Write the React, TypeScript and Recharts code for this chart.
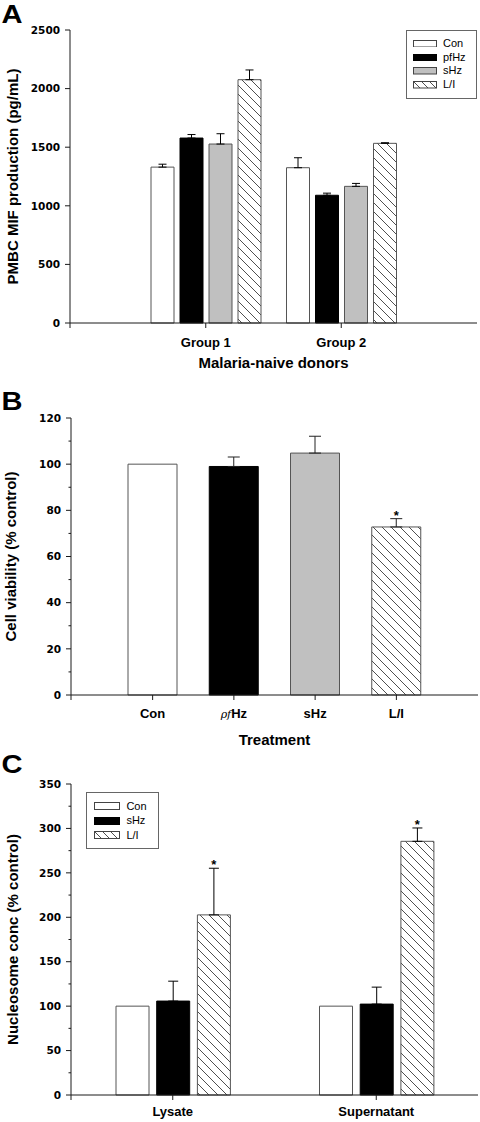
import React from "react";
import { BarChart, Bar, XAxis, YAxis, ErrorBar, Cell, Legend, LabelList, Label } from "recharts";

const FONT = '"Liberation Sans", Arial, Helvetica, sans-serif';
const NUM_FONT = '"DejaVu Sans", "Liberation Sans", sans-serif';
const AXIS = "#1a1a1a";
const BAR_STROKE = "#555";
const GREY = "#c0c0c0";

// ---------- Panel A ----------
const groupsA = ["Group 1", "Group 2"];
const seriesA = ["Con", "pfHz", "sHz", "L/I"];
const conA = [1330, 1325];
const conErrA = [25, 85];
const pfhzA = [1578, 1090];
const pfhzErrA = [30, 18];
const shzA = [1527, 1166];
const shzErrA = [88, 25];
const liA = [2076, 1533];
const liErrA = [83, 5];
const ticksA = [0, 500, 1000, 1500, 2000, 2500];

// ---------- Panel B ----------
const treatmentsB = ["Con", "ρfHz", "sHz", "L/I"];
const viabilityB = [100, 99, 104.8, 72.8];
const viabilityErrB = [0, 4.1, 7.3, 3.6];
const starsB = ["", "", "", "*"];
const majorTicksB = [0, 20, 40, 60, 80, 100, 120];
const allTicksB = [0, 10, 20, 30, 40, 50, 60, 70, 80, 90, 100, 110, 120];

// ---------- Panel C ----------
const sourcesC = ["Lysate", "Supernatant"];
const seriesC = ["Con", "sHz", "L/I"];
const conC = [100, 100];
const shzC = [105.7, 102.3];
const shzErrC = [22.4, 19.1];
const liC = [202.7, 285.5];
const liErrC = [52.5, 15];
const starsC = ["*", "*"];
const majorTicksC = [0, 50, 100, 150, 200, 250, 300, 350];
const allTicksC = [0, 25, 50, 75, 100, 125, 150, 175, 200, 225, 250, 275, 300, 325, 350];

const err = (e: number) => (e > 0 ? [0, e] : undefined);

const dataA = groupsA.map((g, i) => ({
  g,
  con: conA[i], conErr: err(conErrA[i]),
  pfhz: pfhzA[i], pfhzErr: err(pfhzErrA[i]),
  shz: shzA[i], shzErr: err(shzErrA[i]),
  li: liA[i], liErr: err(liErrA[i]),
}));

const dataB = treatmentsB.map((t, i) => ({
  t, v: viabilityB[i], vErr: err(viabilityErrB[i]), star: starsB[i],
}));

const dataC = sourcesC.map((s, i) => ({
  s,
  con: conC[i],
  shz: shzC[i], shzErr: err(shzErrC[i]),
  li: liC[i], liErr: err(liErrC[i]), star: starsC[i],
}));

const fillsB = ["#fff", "#000", GREY, "url(#hatchB)"];

function hatch(id: string, s = 9) {
  return (
    <pattern id={id} patternUnits="userSpaceOnUse" width={s} height={s}>
      <rect width={s} height={s} fill="#fff" />
      <path
        d={`M0,0 L${s},${s} M-1,${s - 1} L1,${s + 1} M${s - 1},-1 L${s + 1},1`}
        stroke="#222"
        strokeWidth={0.8}
      />
    </pattern>
  );
}

function YTick(props: any) {
  const { x, y, payload, major } = props;
  const v = payload.value;
  const isMajor = major.includes(v);
  return (
    <g>
      <line x1={x - (isMajor ? 5 : 2.5)} y1={y} x2={x} y2={y} stroke={AXIS} />
      {v === 0 && <line x1={x} y1={y} x2={x} y2={y + 5} stroke={AXIS} />}
      {isMajor && (
        <text
          x={x - 10}
          y={y}
          dy="0.36em"
          textAnchor="end"
          fontFamily={NUM_FONT}
          fontWeight="bold"
          fontSize={10.5}
          fill="#000"
        >
          {v}
        </text>
      )}
    </g>
  );
}

function RightTick(props: any) {
  const { x, y, payload } = props;
  if (payload.value !== 0) return null;
  return <line x1={x} y1={y} x2={x} y2={y + 5} stroke={AXIS} />;
}

function TreatTick(props: any) {
  const { x, y, payload } = props;
  const v = String(payload.value);
  const m = v.match(/^(ρf)(.*)$/);
  return (
    <text x={x} y={y} dy="0.71em" textAnchor="middle" fontFamily={FONT} fontWeight="bold" fontSize={13} fill="#000">
      {m ? (
        <>
          <tspan fontStyle="italic" fontWeight="normal" fontFamily='"DejaVu Serif", serif' fontSize={11}>
            {m[1]}
          </tspan>
          <tspan>{m[2]}</tspan>
        </>
      ) : (
        v
      )}
    </text>
  );
}

const makeStar = (values: number[], errs: number[]) => (props: any) => {
  const { x, y, width, height, value, index } = props;
  if (!value) return null;
  const pxPerUnit = height / values[index];
  const top = y - errs[index] * pxPerUnit;
  return (
    <text x={x + width / 2} y={top + 1} textAnchor="middle" fontFamily={FONT} fontWeight="bold" fontSize={13} fill="#000">
      {value}
    </text>
  );
};

function Swatch({ kind, w, h, id }: { kind: string; w: number; h: number; id: string }) {
  const fill = kind === "white" ? "#fff" : kind === "black" ? "#000" : kind === "grey" ? GREY : `url(#${id})`;
  return (
    <svg width={w} height={h} style={{ display: "block" }}>
      <defs>{hatch(id, 8)}</defs>
      <rect x={0.5} y={0.5} width={w - 1} height={h - 1} fill={fill} stroke={kind === "black" ? "#000" : "#444"} />
    </svg>
  );
}

function BoxLegend({ names, kinds, rowH, padTop, swW, swH, swLeft, gap, prefix }: any) {
  return (
    <div
      style={{
        boxSizing: "border-box",
        width: "100%",
        height: "100%",
        border: "1px solid #666",
        background: "#fff",
        paddingTop: padTop,
      }}
    >
      {names.map((n: string, i: number) => (
        <div key={n} style={{ display: "flex", alignItems: "center", height: rowH }}>
          <div style={{ marginLeft: swLeft }}>
            <Swatch kind={kinds[i]} w={swW} h={swH} id={`${prefix}${i}`} />
          </div>
          <span style={{ marginLeft: gap, fontFamily: FONT, fontSize: 11, color: "#000", lineHeight: `${rowH}px` }}>{n}</span>
        </div>
      ))}
    </div>
  );
}

const tickStyle = { fontFamily: FONT, fontWeight: "bold", fontSize: 13, fill: "#000" } as any;
const titleStyle = { fontFamily: FONT, fontWeight: "bold", fontSize: 15, fill: "#000" } as any;

function PanelA() {
  return (
    <BarChart width={480} height={380} data={dataA} margin={{ top: 30, right: 3, bottom: 0, left: 0 }} barSize={23} barGap={6}>
      <defs>{hatch("hatchA")}</defs>
      <XAxis
        dataKey="g"
        height={57}
        padding={{ left: 68, right: 68 }}
        stroke={AXIS}
        tickSize={5}
        tickMargin={9.5}
        tick={tickStyle}
      >
        <Label value="Malaria-naive donors" position="insideBottom" offset={12} style={titleStyle} />
      </XAxis>
      <XAxis xAxisId="top" orientation="top" dataKey="g" height={0} tick={false} tickLine={false} stroke={AXIS} />
      <YAxis
        width={70}
        domain={[0, 2500]}
        ticks={ticksA}
        interval={0}
        stroke={AXIS}
        tickLine={false}
        tickSize={0}
        tickMargin={0}
        tick={(p: any) => <YTick {...p} major={ticksA} />}
      >
        <Label
          value="PMBC MIF production (pg/mL)"
          angle={-90}
          position="insideLeft"
          offset={12.5}
          style={{ ...titleStyle, textAnchor: "middle" }}
        />
      </YAxis>
      <YAxis
        yAxisId="r"
        orientation="right"
        width={0}
        domain={[0, 2500]}
        ticks={[0]}
        stroke={AXIS}
        tickLine={false}
        tickSize={0}
        tickMargin={0}
        tick={(p: any) => <RightTick {...p} />}
      />
      <Bar dataKey="con" name={seriesA[0]} fill="#fff" stroke={BAR_STROKE} isAnimationActive={false}>
        <ErrorBar dataKey="conErr" width={4} stroke="#000" strokeWidth={1} direction="y" />
      </Bar>
      <Bar dataKey="pfhz" name={seriesA[1]} fill="#000" stroke="#000" isAnimationActive={false}>
        <ErrorBar dataKey="pfhzErr" width={4} stroke="#000" strokeWidth={1} direction="y" />
      </Bar>
      <Bar dataKey="shz" name={seriesA[2]} fill={GREY} stroke={BAR_STROKE} isAnimationActive={false}>
        <ErrorBar dataKey="shzErr" width={4} stroke="#000" strokeWidth={1} direction="y" />
      </Bar>
      <Bar dataKey="li" name={seriesA[3]} fill="url(#hatchA)" stroke={BAR_STROKE} isAnimationActive={false}>
        <ErrorBar dataKey="liErr" width={4} stroke="#000" strokeWidth={1} direction="y" />
      </Bar>
      <Legend
        layout="vertical"
        align="center"
        verticalAlign="middle"
        wrapperStyle={{ left: 406, top: 30, width: 71, height: 68.5, margin: 0, right: "auto", bottom: "auto" }}
        content={() => (
          <BoxLegend
            names={seriesA}
            kinds={["white", "black", "grey", "hatch"]}
            rowH={13.7}
            padTop={5.85}
            swW={24}
            swH={7.5}
            swLeft={6}
            gap={6}
            prefix="lgA"
          />
        )}
      />
    </BarChart>
  );
}

function PanelB() {
  return (
    <BarChart width={480} height={390} data={dataB} margin={{ top: 48, right: 2, bottom: 0, left: 0 }} barSize={49}>
      <defs>{hatch("hatchB")}</defs>
      <XAxis
        dataKey="t"
        height={65}
        padding={{ left: 41, right: 41 }}
        stroke={AXIS}
        tickSize={5}
        tickMargin={9}
        tick={(p: any) => <TreatTick {...p} />}
      >
        <Label value="Treatment" position="insideBottom" offset={15} style={titleStyle} />
      </XAxis>
      <XAxis xAxisId="top" orientation="top" dataKey="t" height={0} tick={false} tickLine={false} stroke={AXIS} />
      <YAxis
        width={71}
        domain={[0, 120]}
        ticks={allTicksB}
        interval={0}
        stroke={AXIS}
        tickLine={false}
        tickSize={0}
        tickMargin={0}
        tick={(p: any) => <YTick {...p} major={majorTicksB} />}
      >
        <Label
          value="Cell viability (% control)"
          angle={-90}
          position="insideLeft"
          offset={11}
          style={{ ...titleStyle, textAnchor: "middle" }}
        />
      </YAxis>
      <YAxis
        yAxisId="r"
        orientation="right"
        width={0}
        domain={[0, 120]}
        ticks={[0]}
        stroke={AXIS}
        tickLine={false}
        tickSize={0}
        tickMargin={0}
        tick={(p: any) => <RightTick {...p} />}
      />
      <Bar dataKey="v" stroke={BAR_STROKE} isAnimationActive={false}>
        {dataB.map((d, i) => (
          <Cell key={d.t} fill={fillsB[i]} stroke={i === 1 ? "#000" : BAR_STROKE} />
        ))}
        <ErrorBar dataKey="vErr" width={6} stroke="#222" strokeWidth={1} direction="y" />
        <LabelList dataKey="star" content={makeStar(viabilityB, viabilityErrB)} />
      </Bar>
    </BarChart>
  );
}

function PanelC() {
  return (
    <BarChart width={480} height={362} data={dataC} margin={{ top: 24, right: 2, bottom: 0, left: 0 }} barSize={33} barGap={7.7}>
      <defs>{hatch("hatchC")}</defs>
      <XAxis dataKey="s" height={27} stroke={AXIS} tickSize={5} tickMargin={7} tick={tickStyle} />
      <XAxis xAxisId="top" orientation="top" dataKey="s" height={0} tick={false} tickLine={false} stroke={AXIS} />
      <YAxis
        width={71}
        domain={[0, 350]}
        ticks={allTicksC}
        interval={0}
        stroke={AXIS}
        tickLine={false}
        tickSize={0}
        tickMargin={0}
        tick={(p: any) => <YTick {...p} major={majorTicksC} />}
      >
        <Label
          value="Nucleosome conc (% control)"
          angle={-90}
          position="insideLeft"
          offset={12.5}
          style={{ ...titleStyle, textAnchor: "middle" }}
        />
      </YAxis>
      <YAxis
        yAxisId="r"
        orientation="right"
        width={0}
        domain={[0, 350]}
        ticks={[0]}
        stroke={AXIS}
        tickLine={false}
        tickSize={0}
        tickMargin={0}
        tick={(p: any) => <RightTick {...p} />}
      />
      <Bar dataKey="con" name={seriesC[0]} fill="#fff" stroke={BAR_STROKE} isAnimationActive={false} />
      <Bar dataKey="shz" name={seriesC[1]} fill="#000" stroke="#000" isAnimationActive={false}>
        <ErrorBar dataKey="shzErr" width={5} stroke="#000" strokeWidth={1} direction="y" />
      </Bar>
      <Bar dataKey="li" name={seriesC[2]} fill="url(#hatchC)" stroke={BAR_STROKE} isAnimationActive={false}>
        <ErrorBar dataKey="liErr" width={5} stroke="#000" strokeWidth={1} direction="y" />
        <LabelList dataKey="star" content={makeStar(liC, liErrC)} />
      </Bar>
      <Legend
        layout="vertical"
        align="center"
        verticalAlign="middle"
        wrapperStyle={{ left: 86, top: 32, width: 72.5, height: 57, margin: 0, right: "auto", bottom: "auto" }}
        content={() => (
          <BoxLegend
            names={seriesC}
            kinds={["white", "black", "hatch"]}
            rowH={14.5}
            padTop={5.75}
            swW={26}
            swH={8}
            swLeft={7.4}
            gap={6}
            prefix="lgC"
          />
        )}
      />
    </BarChart>
  );
}

function PanelLetter({ letter, x, y }: { letter: string; x: number; y: number }) {
  return (
    <text x={x} y={y} fontFamily={FONT} fontWeight="bold" fontSize={26} fill="#000" textLength={21} lengthAdjust="spacingAndGlyphs">
      {letter}
    </text>
  );
}

export default function App() {
  return (
    <div style={{ position: "absolute", left: 0, top: 0, width: 480, height: 1122, background: "#fff", overflow: "hidden" }}>
      <div style={{ position: "absolute", left: 0, top: 0 }}>
        <PanelA />
      </div>
      <div style={{ position: "absolute", left: 0, top: 370 }}>
        <PanelB />
      </div>
      <div style={{ position: "absolute", left: 0, top: 760 }}>
        <PanelC />
      </div>
      <svg width={480} height={1122} style={{ position: "absolute", left: 0, top: 0, pointerEvents: "none" }}>
        <PanelLetter letter="A" x={1.5} y={23} />
        <PanelLetter letter="B" x={1.5} y={410} />
        <PanelLetter letter="C" x={1.5} y={773} />
      </svg>
    </div>
  );
}
